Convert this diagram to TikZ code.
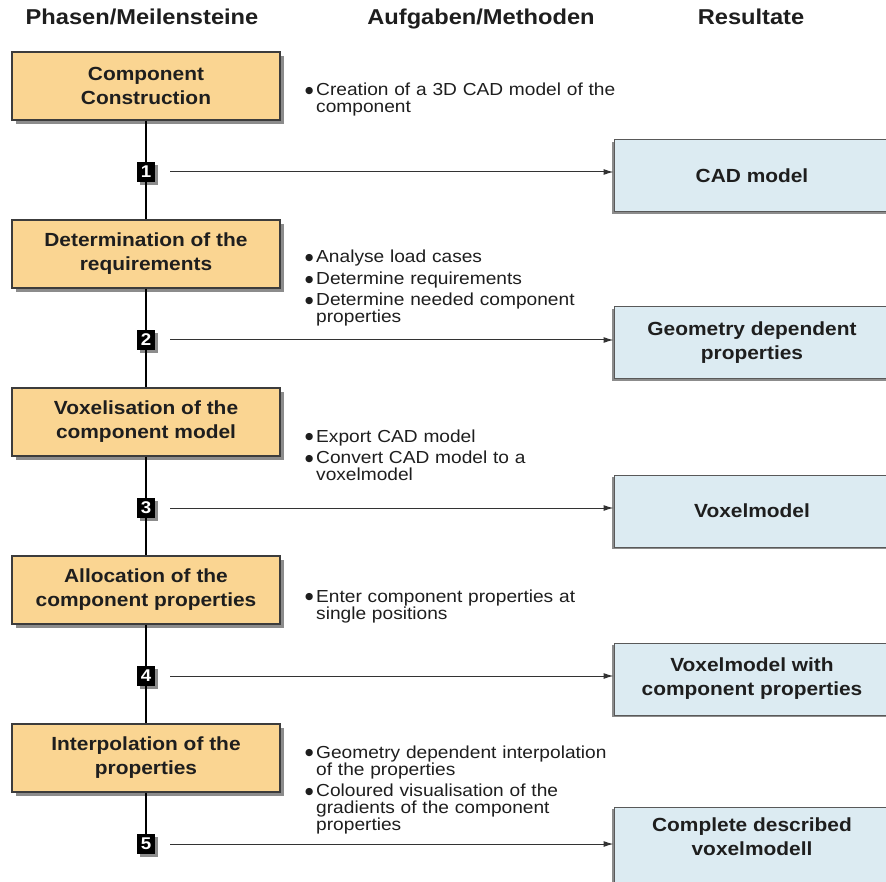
\documentclass[tikz,border=0pt]{standalone}
\usepackage{fontspec}
\setmainfont[FakeStretch=1.1]{Liberation Sans}
\newfontfamily\dotfont{DejaVu Sans}
\usetikzlibrary{arrows.meta,shadows}
\definecolor{phasefill}{HTML}{FAD592}
\definecolor{resfill}{HTML}{DCEBF2}
\definecolor{boxline}{HTML}{3C3C3C}
\definecolor{shadowgray}{HTML}{8C8C8C}
\definecolor{txt}{HTML}{1E1E1E}
\newcommand{\bdot}{\makebox[11pt][l]{\raisebox{2.3pt}{\dotfont\fontsize{9.5}{0}\selectfont ●}}}
\newcommand{\bitem}[1]{\hangindent=11pt\hangafter=1\noindent\bdot#1\par}
\newcommand{\bgap}{\vspace{4.5pt}}
\begin{document}
\begin{tikzpicture}[x=1pt,y=-1pt,
  header/.style={font=\fontsize{21.5}{24}\selectfont\bfseries, anchor=base, inner sep=0, text=txt},
  phase/.style={draw=boxline, line width=1.2pt, fill=phasefill, minimum width=268pt, minimum height=68pt,
    align=center, inner sep=0, font=\fontsize{19}{24}\selectfont\bfseries, text=txt,
    drop shadow={shadow xshift=4pt, shadow yshift=-4pt, fill=shadowgray, opacity=1}},
  result/.style={draw=boxline!85, line width=1pt, fill=resfill, minimum width=276pt, minimum height=72pt,
    align=center, inner sep=0, font=\fontsize{19}{24}\selectfont\bfseries, text=txt,
    drop shadow={shadow xshift=-2pt, shadow yshift=-2pt, fill=shadowgray, opacity=1}},
  restext/.style={align=center, inner sep=0, font=\fontsize{19}{24}\selectfont\bfseries, text=txt},
  ms/.style={fill=black, minimum width=18pt, minimum height=20pt, inner sep=0, text=white,
    font=\fontsize{17}{17}\selectfont\bfseries,
    drop shadow={shadow xshift=3pt, shadow yshift=-3pt, fill=shadowgray, opacity=1}},
  task/.style={anchor=base west, inner sep=0, text width=340pt, font=\fontsize{17.4}{17}\selectfont, align=left, text=txt},
  spine/.style={line width=1.8pt, draw=black},
  flow/.style={line width=1pt, draw=black!80, -{Latex[length=10pt,width=6pt]}, shorten <=15pt},
]
\useasboundingbox[fill=white] (0,0) rectangle (886,882);

% headers
\node[header] (h1) at (142,25) {Phasen/Meilensteine};
\node[header] (h2) at (481,25) {Aufgaben/Methoden};
\node[header] (h3) at (751,25) {Resultate};

% phases
\node[phase] (p1) at (146,86)  {Component\\Construction};
\node[phase] (p2) at (146,254) {Determination of the\\requirements};
\node[phase] (p3) at (146,422) {Voxelisation of the\\component model};
\node[phase] (p4) at (146,590) {Allocation of the\\component properties};
\node[phase] (p5) at (146,758) {Interpolation of the\\properties};

% milestones
\node[ms] (s1) at (146,172) {1};
\node[ms] (s2) at (146,340) {2};
\node[ms] (s3) at (146,508) {3};
\node[ms] (s4) at (146,676) {4};
\node[ms] (s5) at (146,844) {5};

% spine
\draw[spine] (p1.south) -- (s1.north);
\draw[spine] (s1.south) -- (p2.north);
\draw[spine] (p2.south) -- (s2.north);
\draw[spine] (s2.south) -- (p3.north);
\draw[spine] (p3.south) -- (s3.north);
\draw[spine] (s3.south) -- (p4.north);
\draw[spine] (p4.south) -- (s4.north);
\draw[spine] (s4.south) -- (p5.north);
\draw[spine] (p5.south) -- (s5.north);

% results
\node[result] (r1) at (752,176) {CAD model};
\node[result] (r2) at (752,343) {Geometry dependent\\properties};
\node[result] (r3) at (752,511) {Voxelmodel};
\node[result] (r4) at (752,679) {Voxelmodel with\\component properties};
\node[result, minimum height=80pt] (r5) at (752,847) {};
\node[restext] (r5t) at (752,837) {Complete described\\voxelmodell};

% arrows
\draw[flow] (s1.east) -- (s1.east -| r1.west);
\draw[flow] (s2.east) -- (s2.east -| r2.west);
\draw[flow] (s3.east) -- (s3.east -| r3.west);
\draw[flow] (s4.east) -- (s4.east -| r4.west);
\draw[flow] (s5.east) -- (s5.east -| r5.west);

% tasks
\node[task] (t1) at (305,96) {\bitem{Creation of a 3D CAD model of the\newline component}};
\node[task] (t2) at (305,263) {\bitem{Analyse load cases}\bgap\bitem{Determine requirements}\bgap\bitem{Determine needed component\newline properties}};
\node[task] (t3) at (305,442) {\bitem{Export CAD model}\bgap\bitem{Convert CAD model to a\newline voxelmodel}};
\node[task] (t4) at (305,602) {\bitem{Enter component properties at\newline single positions}};
\node[task] (t5) at (305,758) {\bitem{Geometry dependent interpolation\newline of the properties}\bgap\bitem{Coloured visualisation of the\newline gradients of the component\newline properties}};
\end{tikzpicture}
\end{document}
